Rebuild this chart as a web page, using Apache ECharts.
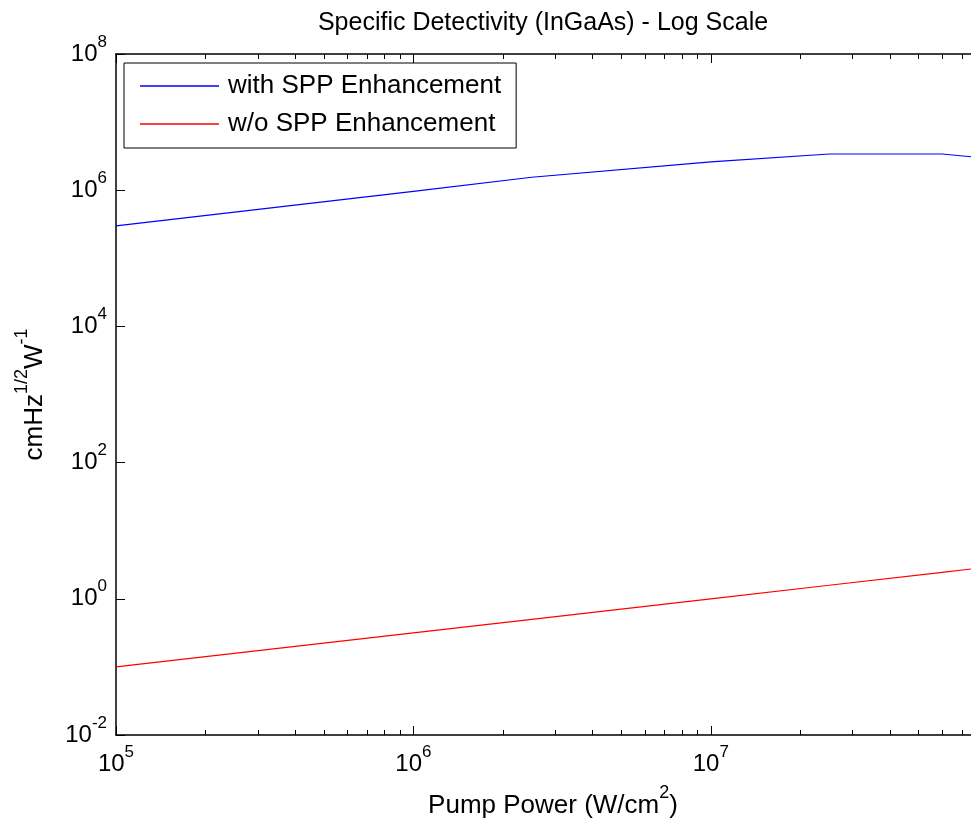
<!DOCTYPE html>
<html>
<head>
<meta charset="utf-8">
<script src="https://cdn.jsdelivr.net/npm/echarts@6/dist/echarts.min.js"></script>
<style>
html, body { margin: 0; padding: 0; background: #fff; }
#chart { width: 971px; height: 824px; }
</style>
</head>
<body>
<div id="chart"></div>
<script>
// pump power (W/cm^2)
var pumpPower = [1e5, 1e6, 2.5e6, 1e7, 2.5e7, 6e7, 7.5e7];
var withSpp = [3.0e5, 9.6e5, 1.55e6, 2.6e6, 3.4e6, 3.4e6, 3.1e6];
var withoutSpp = [0.1, 0.316, 0.5, 1.0, 1.58, 2.45, 2.74];
// minor tick positions on the x axis
var minorTicks = [];
[1e5, 1e6, 1e7].forEach(function (d) {
	for (var k = 2; k <= 9; k++) {
		if (k * d <= 7.5e7) minorTicks.push(k * d);
	}
});

var fontName = 'Liberation Sans, Arial, sans-serif';
var xMax = 7.5e7;

function pairs(xs, ys) {
	var out = [];
	for (var i = 0; i < xs.length; i++) out.push([xs[i], ys[i]]);
	return out;
}
function powLabel(v) {
	var e = Math.log10(v);
	if (Math.abs(e - Math.round(e)) > 1e-6) return '';
	return '{b|10}{s|' + Math.round(e) + '}';
}
var powRich = {
	b: { fontSize: 24, fontFamily: fontName, color: '#000' },
	s: { fontSize: 17, fontFamily: fontName, color: '#000', padding: [0, 0, 24, 0] }
};
var supRich = { s: { fontSize: 18, fontFamily: fontName, color: '#000', padding: [0, 0, 26, 0] } };

var chart = echarts.init(document.getElementById('chart'));
var option = {
	animation: false,
	backgroundColor: '#fff',
	title: {
		text: 'Specific Detectivity (InGaAs) - Log Scale',
		left: 538,
		top: 6,
		textAlign: 'center',
		textStyle: { fontSize: 25, fontWeight: 'normal', color: '#000', fontFamily: fontName }
	},
	legend: {
		orient: 'vertical',
		left: 124,
		top: 63,
		padding: [10, 15, 11, 16],
		itemWidth: 79,
		itemHeight: 1.5,
		itemGap: 12,
		icon: 'rect',
		borderColor: '#000',
		borderWidth: 1,
		borderRadius: 0,
		backgroundColor: '#fff',
		textStyle: { fontSize: 26, fontFamily: fontName, color: '#000', padding: [0, 0, 0, 4] },
		data: ['with SPP Enhancement', 'w/o SPP Enhancement']
	},
	grid: { left: 116, top: 54, right: 0, bottom: 88, containLabel: false },
	xAxis: [{
		type: 'log',
		position: 'bottom',
		min: 1e5,
		max: xMax,
		name: 'Pump Power (W/cm{s|2})',
		nameLocation: 'middle',
		nameGap: 49,
		nameTextStyle: {
			fontSize: 26, fontFamily: fontName, color: '#000', padding: [0, 0, 0, 19],
			rich: supRich
		},
		axisLine: { lineStyle: { color: '#000', width: 1.5 } },
		axisTick: { inside: true, length: 9, lineStyle: { color: '#000' } },
		axisLabel: { margin: 9, formatter: powLabel, rich: powRich, showMaxLabel: false },
		splitLine: { show: false }
	}, {
		type: 'log',
		position: 'bottom',
		min: 1e5,
		max: xMax,
		axisLine: { show: false },
		axisTick: { inside: true, length: 5, customValues: minorTicks, lineStyle: { color: '#000' } },
		axisLabel: { show: false },
		splitLine: { show: false }
	}, {
		type: 'log',
		position: 'top',
		min: 1e5,
		max: xMax,
		axisLine: { lineStyle: { color: '#000', width: 1.5 } },
		axisTick: { inside: true, length: 9, lineStyle: { color: '#000' } },
		axisLabel: { show: false },
		splitLine: { show: false }
	}, {
		type: 'log',
		position: 'top',
		min: 1e5,
		max: xMax,
		axisLine: { show: false },
		axisTick: { inside: true, length: 5, customValues: minorTicks, lineStyle: { color: '#000' } },
		axisLabel: { show: false },
		splitLine: { show: false }
	}],
	yAxis: {
		type: 'log',
		min: 1e-2,
		max: 1e8,
		interval: 2,
		name: 'cmHz{s|1/2}W{s|-1}',
		nameLocation: 'middle',
		nameRotate: 90,
		nameGap: 59,
		nameTextStyle: {
			fontSize: 26, fontFamily: fontName, color: '#000',
			rich: supRich
		},
		axisLine: { lineStyle: { color: '#000', width: 1.5 } },
		axisTick: { inside: true, length: 9, lineStyle: { color: '#000' } },
		axisLabel: { margin: 9, formatter: powLabel, rich: powRich },
		splitLine: { show: false }
	},
	series: [{
		name: 'with SPP Enhancement',
		type: 'line',
		symbol: 'none',
		xAxisIndex: 0,
		lineStyle: { color: '#0000ff', width: 1.2 },
		itemStyle: { color: '#0000ff' },
		data: pairs(pumpPower, withSpp)
	}, {
		name: 'w/o SPP Enhancement',
		type: 'line',
		symbol: 'none',
		xAxisIndex: 0,
		lineStyle: { color: '#ff0000', width: 1.2 },
		itemStyle: { color: '#ff0000' },
		data: pairs(pumpPower, withoutSpp)
	}]
};
chart.setOption(option);
</script>
</body>
</html>
